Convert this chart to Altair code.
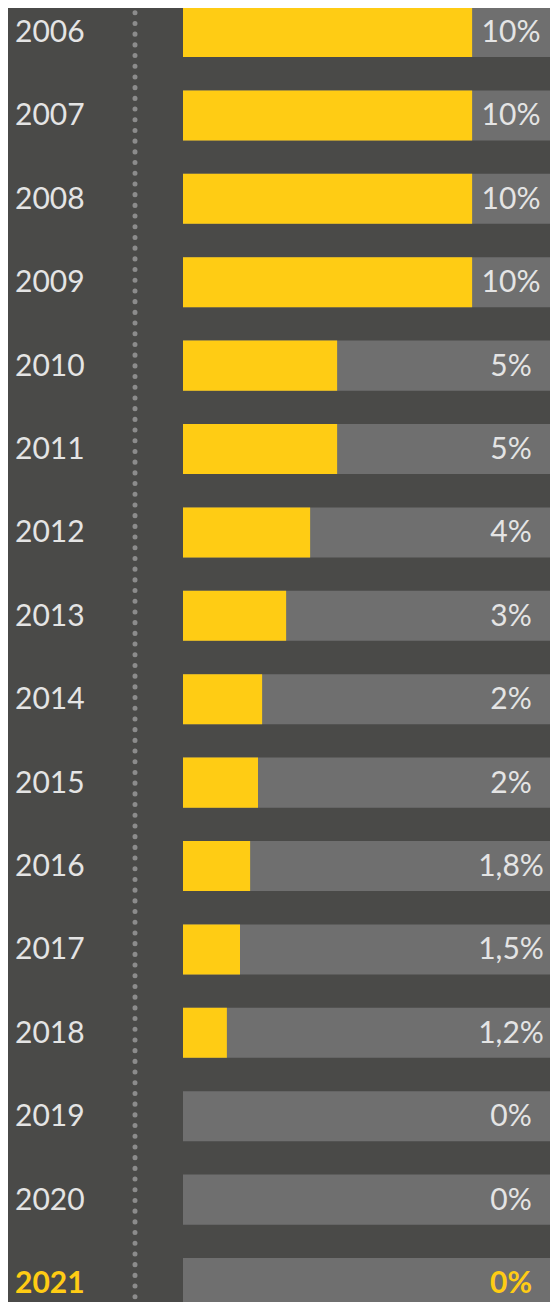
import altair as alt
import pandas as pd

years = ["2006", "2007", "2008", "2009", "2010", "2011", "2012", "2013",
         "2014", "2015", "2016", "2017", "2018", "2019", "2020", "2021"]
rate_labels = ["10%", "10%", "10%", "10%", "5%", "5%", "4%", "3%",
               "2%", "2%", "1,8%", "1,5%", "1,2%", "0%", "0%", "0%"]
# yellow bar length, in % of the grey track
fill_lengths = [77.1, 77.1, 77.1, 77.1, 41.1, 41.1, 33.9, 27.5,
                21.1, 20.0, 17.9, 15.2, 11.7, 0, 0, 0]
highlight = ["no"] * 15 + ["yes"]

df = pd.DataFrame({
    "year": years,
    "label": rate_labels,
    "fill": fill_lengths,
    "start": [0] * len(years),
    "end": [100] * len(years),
    "hl": highlight,
})

BG = "#4a4a48"
TRACK = "#6f6f6f"
YELLOW = "#ffcc14"
TEXT = "#e4e4e4"
FONT = "Lato"

yscale = alt.Scale(domain=years, range=[-17.68, 1316.72], paddingInner=0.4, paddingOuter=0.2)
xscale = alt.Scale(domain=[0, 100], range=[175, 550])

Y = alt.Y("year:N", sort=years, axis=None, scale=yscale)

base = alt.Chart(df)

track = base.mark_bar(color=TRACK).encode(
    x=alt.X("start:Q", scale=xscale, axis=None),
    x2="end:Q",
    y=Y,
)

fill = base.mark_bar(color=YELLOW).encode(
    x=alt.X("start:Q", scale=xscale, axis=None),
    x2="fill:Q",
    y=Y,
)

year_txt = base.transform_filter(alt.datum.hl == "no").mark_text(
    align="left", baseline="middle", font=FONT, fontSize=30, color=TEXT, dy=1
).encode(x=alt.value(7), y=Y, text="year:N")

year_hl = base.transform_filter(alt.datum.hl == "yes").mark_text(
    align="left", baseline="middle", font=FONT, fontSize=30, fontWeight="bold", color=YELLOW, dy=1
).encode(x=alt.value(7), y=Y, text="year:N")

lab_txt = base.transform_filter(alt.datum.hl == "no").mark_text(
    align="center", baseline="middle", font=FONT, fontSize=30, color=TEXT, dy=1
).encode(x=alt.value(503), y=Y, text="label:N")

lab_hl = base.transform_filter(alt.datum.hl == "yes").mark_text(
    align="center", baseline="middle", font=FONT, fontSize=30, fontWeight="bold", color=YELLOW, dy=1
).encode(x=alt.value(503), y=Y, text="label:N")

dots = alt.Chart(pd.DataFrame({"d": [0]})).mark_rule(
    color="#8c8c8c", strokeWidth=5, strokeDash=[0.1, 10.6], strokeCap="round"
).encode(x=alt.value(127), y=alt.value(-6), y2=alt.value(1300))

chart = alt.layer(dots, track, fill, year_txt, year_hl, lab_txt, lab_hl).properties(
    width=542,
    height=1294,
    autosize=alt.AutoSizeParams(type="none"),
    padding=0,
    background=BG,
).configure_view(stroke=None)

chart.save("out.html", embed_options={"renderer": "svg", "actions": False})
